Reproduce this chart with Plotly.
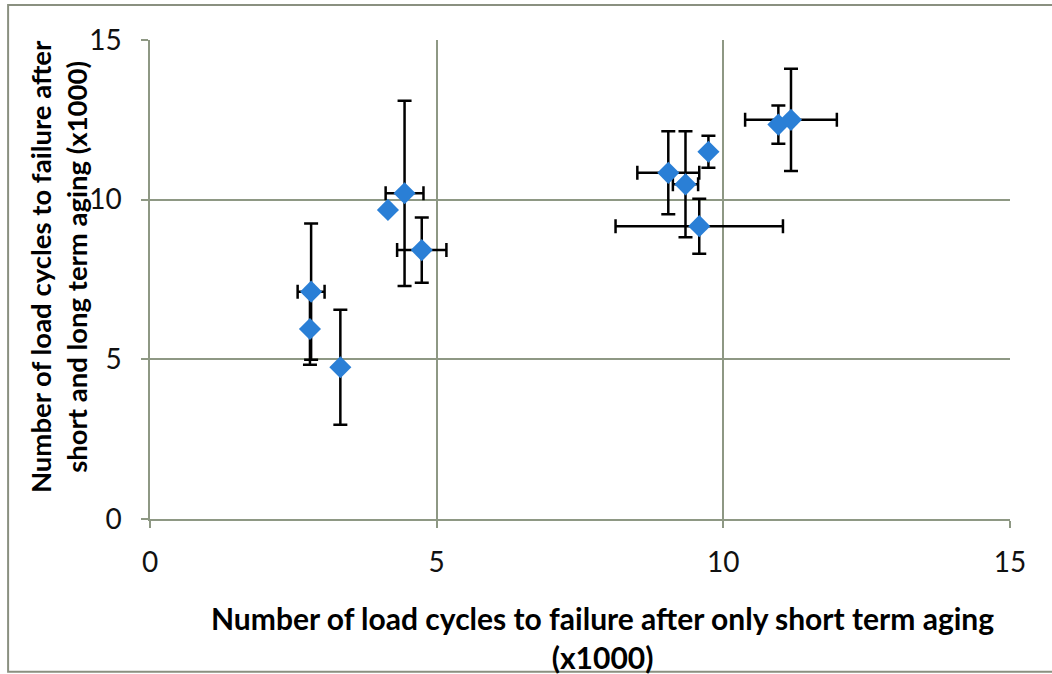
import plotly.graph_objects as go

# Data (x1000 load cycles)
x_short = [2.81, 2.79, 3.32, 4.15, 4.44, 4.74, 9.04, 9.34, 9.58, 9.74, 10.96, 11.18]
y_long = [7.12, 5.95, 4.75, 9.68, 10.20, 8.42, 10.84, 10.48, 9.17, 11.50, 12.35, 12.50]
err_x = [0.235, 0.0, 0.0, 0.0, 0.33, 0.43, 0.54, 0.22, 1.46, 0.0, 0.0, 0.80]
err_y = [2.13, 1.12, 1.80, 0.0, 2.90, 1.02, 1.30, 1.66, 0.86, 0.50, 0.60, 1.60]

tick_vals = [0, 5, 10, 15]

x_title = "Number of load cycles to failure after only short term aging<br>(x1000)"
y_title = "Number of load cycles to failure after<br>short and long term aging (x1000)"

FONT = "Lato, Carlito, Calibri, sans-serif"
GRID = "#8e9884"

fig = go.Figure()
fig.add_trace(go.Scatter(
    x=x_short, y=y_long, mode="markers",
    marker=dict(symbol="diamond", size=17, color="#2a7fd6",
                line=dict(width=0)),
    error_x=dict(type="data", array=err_x, visible=True,
                 color="black", thickness=2.5, width=7),
    error_y=dict(type="data", array=err_y, visible=True,
                 color="black", thickness=2.5, width=7),
    showlegend=False,
))

axis_common = dict(
    range=[0, 15], tickvals=tick_vals, ticktext=[str(v) for v in tick_vals],
    showgrid=True, gridcolor=GRID, gridwidth=1.5,
    showline=True, linecolor=GRID, linewidth=1.5, mirror=False,
    zeroline=False, ticks="outside", ticklen=7, tickcolor=GRID, tickwidth=1.5,
    tickfont=dict(family=FONT, size=28, color="#111"),
    fixedrange=True,
)

fig.update_layout(
    width=1052, height=674,
    margin=dict(l=150, r=42, t=40, b=155),
    paper_bgcolor="white", plot_bgcolor="white",
    xaxis=dict(**axis_common, ticklabelstandoff=11),
    yaxis=dict(**axis_common, ticklabelstandoff=14),
    font=dict(family=FONT),
)

fig.add_annotation(
    text=x_title, xref="paper", yref="paper", x=0.526, y=-0.248,
    xanchor="center", yanchor="middle", showarrow=False,
    font=dict(family=FONT, size=30, color="black", weight="bold"),
    align="center",
)
fig.add_annotation(
    text=y_title, xref="paper", yref="paper", x=-0.107, y=0.528,
    xanchor="center", yanchor="middle", showarrow=False, textangle=-90,
    font=dict(family=FONT, size=27.5, color="black", weight="bold"),
    align="center",
)

# outer chart frame
fig.add_shape(type="rect", xref="paper", yref="paper",
              x0=-0.165, x1=1.06, y0=-0.319, y1=1.073,
              line=dict(color="#8a9080", width=2), layer="below")

fig.write_html("out.html")
